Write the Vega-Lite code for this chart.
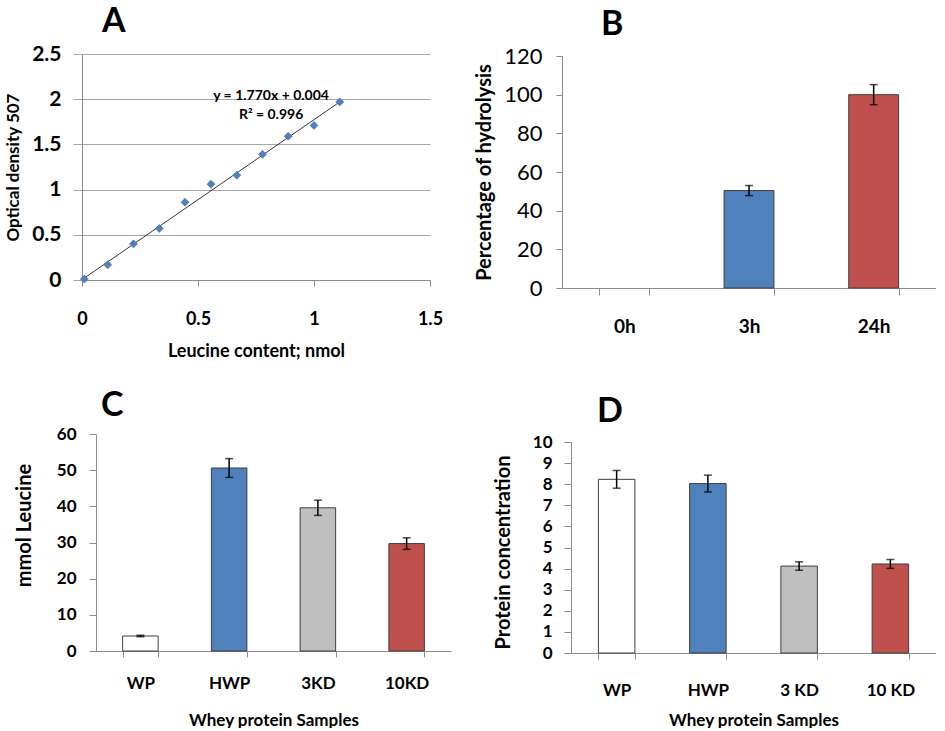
{
  "$schema": "https://vega.github.io/schema/vega-lite/v6.json",
  "background": "white",
  "padding": {"left": 4, "top": 5, "right": 0, "bottom": 0},
  "bounds": "flush",
  "spacing": 380,
  "resolve": {"scale": {"x": "independent", "y": "independent", "color": "independent"}},
  "config": {
    "font": "Lato",
    "view": {"stroke": null},
    "axis": {"domainColor": "#8c8c8c", "tickColor": "#8c8c8c", "labelColor": "#000000", "titleColor": "#000000", "labelFont": "Lato", "titleFont": "Lato", "grid": false, "domainWidth": 1, "tickWidth": 1, "labelFontWeight": "bold", "titleFontWeight": "bold", "labelOverlap": false, "labelFlush": false},
    "title": {"font": "Lato", "fontWeight": "bold", "fontSize": 34, "color": "#000000", "anchor": "start", "frame": "group", "baseline": "alphabetic"}
  },
  "vconcat": [
    {
      "bounds": "flush",
      "spacing": 132,
      "resolve": {"scale": {"x": "independent", "y": "independent", "color": "independent"}},
      "hconcat": [
        {
          "width": 348,
          "height": 226,
          "title": {"text": "A", "dx": 20, "offset": 4},
          "layer": [
            {
              "data": {"values": [{"x": 0, "y": 0.004}, {"x": 1.111, "y": 1.97}]},
              "mark": {"type": "line", "color": "#000000", "strokeWidth": 0.8},
              "encoding": {
                "x": {"field": "x", "type": "quantitative", "scale": {"domain": [0, 1.5], "nice": false}, "axis": {"title": "Leucine content; nmol", "values": [0, 0.5, 1, 1.5], "format": "~g", "tickSize": 6, "labelPadding": 24, "labelFontSize": 18, "titleFontSize": 18, "titlePadding": 14}},
                "y": {"field": "y", "type": "quantitative", "scale": {"domain": [0, 2.5], "nice": false}, "axis": {"title": "Optical density 507", "values": [0, 0.5, 1, 1.5, 2, 2.5], "format": "~g", "grid": true, "gridColor": "#a6a6a6", "tickColor": "#a6a6a6", "tickSize": 9, "labelPadding": 12, "labelFontSize": 21, "titleFontSize": 17, "titlePadding": 9}}
              }
            },
            {
              "data": {"values": [
                {"x": 0.01, "y": 0.01}, {"x": 0.111, "y": 0.17}, {"x": 0.222, "y": 0.40}, {"x": 0.333, "y": 0.57},
                {"x": 0.444, "y": 0.86}, {"x": 0.556, "y": 1.06}, {"x": 0.667, "y": 1.16}, {"x": 0.778, "y": 1.39},
                {"x": 0.889, "y": 1.59}, {"x": 1.0, "y": 1.71}, {"x": 1.111, "y": 1.97}
              ]},
              "mark": {"type": "point", "shape": "diamond", "filled": true, "size": 64, "color": "#4F81BD", "stroke": "#3B6AA0", "strokeWidth": 0.6, "opacity": 1},
              "encoding": {
                "x": {"field": "x", "type": "quantitative"},
                "y": {"field": "y", "type": "quantitative"}
              }
            },
            {
              "data": {"values": [{"label": "y = 1.770x + 0.004\nR² = 0.996"}]},
              "mark": {"type": "text", "fontSize": 14, "fontWeight": "bold", "lineBreak": "\n", "lineHeight": 19, "align": "center", "baseline": "alphabetic", "color": "#000000"},
              "encoding": {
                "x": {"datum": 0.815},
                "y": {"datum": 1.99},
                "text": {"field": "label"}
              }
            }
          ]
        },
        {
          "width": 374,
          "height": 234,
          "title": {"text": "B", "dx": 39, "offset": 3.5},
          "data": {"values": [
            {"time": "0h", "pct": 0, "err": 0},
            {"time": "3h", "pct": 50.4, "err": 2.6},
            {"time": "24h", "pct": 100, "err": 5.2}
          ]},
          "encoding": {
            "x": {"field": "time", "type": "nominal", "scale": {"domain": ["0h", "3h", "24h"], "paddingInner": 0.6, "paddingOuter": 0.3}, "axis": {"title": null, "labelAngle": 0, "tickBand": "extent", "tickSize": 7, "labelPadding": 22, "labelFontSize": 19}},
            "y": {"field": "pct", "type": "quantitative", "title": "Percentage of hydrolysis", "scale": {"domain": [0, 120], "range": [234, 2], "nice": false}, "axis": {"values": [0, 20, 40, 60, 80, 100, 120], "tickSize": 6, "labelPadding": 14, "labelFontSize": 22, "labelFontWeight": "normal", "titleFontSize": 20, "titlePadding": 9}}
          },
          "layer": [
            {
              "transform": [{"filter": "datum.pct > 0"}],
              "mark": {"type": "bar", "stroke": "#3f3f3f", "strokeWidth": 1},
              "encoding": {
                "color": {"field": "time", "type": "nominal", "scale": {"domain": ["0h", "3h", "24h"], "range": ["#ffffff", "#4F81BD", "#C0504D"]}, "legend": null}
              }
            },
            {
              "transform": [{"filter": "datum.err > 0"}],
              "mark": {"type": "errorbar", "color": "#000000", "thickness": 1.5, "ticks": {"size": 8}},
              "encoding": {
                "yError": {"field": "err"}
              }
            }
          ]
        }
      ]
    },
    {
      "bounds": "flush",
      "spacing": 120,
      "resolve": {"scale": {"x": "independent", "y": "independent", "color": "independent"}},
      "hconcat": [
        {
          "width": 369,
          "height": 217,
          "title": {"text": "C", "dx": 19, "offset": 2},
          "data": {"values": [
            {"sample": "WP", "leu": 4.15, "leuErr": 0.2},
            {"sample": "HWP", "leu": 50.6, "leuErr": 2.6},
            {"sample": "3KD", "leu": 39.6, "leuErr": 2.1},
            {"sample": "10KD", "leu": 29.7, "leuErr": 1.6}
          ]},
          "encoding": {
            "x": {"field": "sample", "type": "nominal", "title": "Whey protein Samples", "scale": {"domain": ["WP", "HWP", "3KD", "10KD"], "paddingInner": 0.6, "paddingOuter": 0.3, "range": [14, 369]}, "axis": {"labelAngle": 0, "tickBand": "extent", "tickSize": 6, "labelPadding": 18, "labelFontSize": 17, "titleFontSize": 17, "titlePadding": 21}},
            "y": {"field": "leu", "type": "quantitative", "title": "mmol Leucine", "scale": {"domain": [0, 60], "nice": false}, "axis": {"values": [0, 10, 20, 30, 40, 50, 60], "offset": -14, "tickSize": 7, "labelPadding": 13, "labelFontSize": 17, "titleFontSize": 20, "titlePadding": 22, "titleY": 91}}
          },
          "layer": [
            {
              "mark": {"type": "bar", "stroke": "#3f3f3f", "strokeWidth": 1},
              "encoding": {
                "color": {"field": "sample", "type": "nominal", "scale": {"domain": ["WP", "HWP", "3KD", "10KD"], "range": ["#ffffff", "#4F81BD", "#BFBFBF", "#C0504D"]}, "legend": null}
              }
            },
            {
              "mark": {"type": "errorbar", "color": "#000000", "thickness": 1.5, "ticks": {"size": 8}},
              "encoding": {
                "yError": {"field": "leuErr"}
              }
            }
          ]
        },
        {
          "width": 365,
          "height": 219,
          "title": {"text": "D", "dx": 26, "offset": 4.5},
          "data": {"values": [
            {"sample2": "WP", "conc": 8.23, "concErr": 0.42},
            {"sample2": "HWP", "conc": 8.03, "concErr": 0.4},
            {"sample2": "3 KD", "conc": 4.12, "concErr": 0.2},
            {"sample2": "10 KD", "conc": 4.22, "concErr": 0.21}
          ]},
          "encoding": {
            "x": {"field": "sample2", "type": "nominal", "title": "Whey protein Samples", "scale": {"domain": ["WP", "HWP", "3 KD", "10 KD"], "paddingInner": 0.6, "paddingOuter": 0.3}, "axis": {"labelAngle": 0, "tickBand": "extent", "tickSize": 6, "labelPadding": 23, "labelFontSize": 17, "titleFontSize": 17, "titlePadding": 14}},
            "y": {"field": "conc", "type": "quantitative", "title": "Protein concentration", "scale": {"domain": [0, 10], "nice": false, "range": [219, 8]}, "axis": {"values": [0, 1, 2, 3, 4, 5, 6, 7, 8, 9, 10], "tickSize": 7, "labelPadding": 12, "labelFontSize": 17, "titleFontSize": 20, "titlePadding": 19, "titleY": 118}}
          },
          "layer": [
            {
              "mark": {"type": "bar", "stroke": "#3f3f3f", "strokeWidth": 1},
              "encoding": {
                "color": {"field": "sample2", "type": "nominal", "scale": {"domain": ["WP", "HWP", "3 KD", "10 KD"], "range": ["#ffffff", "#4F81BD", "#BFBFBF", "#C0504D"]}, "legend": null}
              }
            },
            {
              "mark": {"type": "errorbar", "color": "#000000", "thickness": 1.5, "ticks": {"size": 8}},
              "encoding": {
                "yError": {"field": "concErr"}
              }
            }
          ]
        }
      ]
    }
  ]
}
